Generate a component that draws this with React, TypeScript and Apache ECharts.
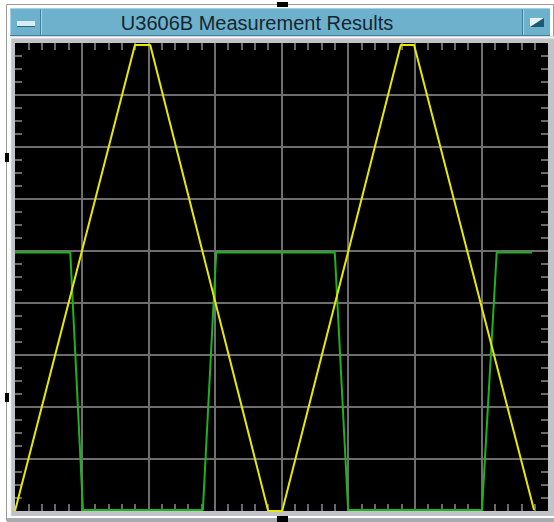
import React, { useEffect, useRef } from "react";
import * as echarts from "echarts";

const TITLE = "U3606B Measurement Results";

// Scope screen: divisions
const X_MIN = 0;
const X_MAX = 8;
const X_STEP = 1;
const X_MINOR = 5;
const Y_MIN = 0;
const Y_MAX = 9;
const Y_STEP = 1;
const Y_MINOR = 4;

// Yellow triangle trace (x, y in divisions)
const triangleX = [0, 1.8, 2.03, 3.8, 4.01, 5.79, 5.99, 7.79];
const triangleY = [0, 8.96, 8.96, 0, 0, 8.96, 8.96, 0.02];

// Green square trace (x, y in divisions)
const squareX = [0, 0.83, 1.02, 2.82, 3.02, 4.8, 5.0, 7.01, 7.23, 7.76];
const squareY = [4.97, 4.97, 0.02, 0.02, 4.97, 4.97, 0.02, 0.02, 4.97, 4.97];

const W = 554;
const H = 522;
const TICK_LEN = 7;

export default function App() {
  const ref = useRef<HTMLDivElement>(null);

  useEffect(() => {
    if (!ref.current) return;
    const chart = echarts.init(ref.current, null, { renderer: "svg" });

    const gridColor = "#6e6e6e";
    const tickColor = "#8c8c8c";
    const mkAxis = (
      pos: string,
      min: number,
      max: number,
      step: number,
      minor: number,
      split: boolean
    ) => ({
      type: "value",
      show: true,
      position: pos,
      offset: -TICK_LEN,
      min,
      max,
      interval: step,
      axisLine: { show: false, onZero: false },
      axisLabel: { show: false },
      axisTick: { show: false },
      minorTick: {
        show: true,
        splitNumber: minor,
        length: TICK_LEN,
        lineStyle: { color: tickColor, width: 1.5, opacity: 1 },
      },
      splitLine: {
        show: split,
        showMinLine: false,
        showMaxLine: false,
        lineStyle: { color: gridColor, width: 2 },
      },
      minorSplitLine: { show: false },
    });

    const dark = "#3e7f9c";
    const light = "#a2d2e6";
    const frame = "#c0c4c8";

    const graphic: any[] = [
      {
        type: "rect",
        z: -3,
        shape: { x: 6.5, y: 4.5, width: 547, height: 516 },
        style: { fill: "#ffffff", stroke: "#9a9a9a", lineWidth: 1 },
        silent: true,
      },
      {
        type: "rect",
        z: -2,
        shape: { x: 10, y: 36, width: 544, height: 480 },
        style: { fill: frame },
        silent: true,
      },
      {
        type: "line",
        z: -1,
        shape: { x1: 10, y1: 37.5, x2: 554, y2: 37.5 },
        style: { stroke: "#f4f4f4", lineWidth: 2 },
        silent: true,
      },
      {
        type: "line",
        z: -1,
        shape: { x1: 10.5, y1: 36, x2: 10.5, y2: 516 },
        style: { stroke: "#f4f4f4", lineWidth: 1.5 },
        silent: true,
      },
      {
        type: "line",
        z: -1,
        shape: { x1: 7, y1: 517, x2: 554, y2: 517 },
        style: { stroke: "#ffffff", lineWidth: 2 },
        silent: true,
      },
      {
        type: "rect",
        z: -1,
        shape: { x: 7, y: 518, width: 547, height: 4 },
        style: { fill: "#a8acb0" },
        silent: true,
      },
      // title bar
      {
        type: "rect",
        shape: { x: 10, y: 8, width: 540, height: 28 },
        style: { fill: "#6eb1cd" },
        silent: true,
      },
      {
        type: "line",
        shape: { x1: 10, y1: 8.5, x2: 550, y2: 8.5 },
        style: { stroke: light, lineWidth: 1 },
        silent: true,
      },
      {
        type: "line",
        shape: { x1: 10.5, y1: 8, x2: 10.5, y2: 36 },
        style: { stroke: light, lineWidth: 1 },
        silent: true,
      },
      {
        type: "line",
        shape: { x1: 10, y1: 35.5, x2: 550, y2: 35.5 },
        style: { stroke: dark, lineWidth: 1 },
        silent: true,
      },
      {
        type: "line",
        shape: { x1: 40.5, y1: 9, x2: 40.5, y2: 35 },
        style: { stroke: dark, lineWidth: 1 },
        silent: true,
      },
      {
        type: "line",
        shape: { x1: 41.5, y1: 9, x2: 41.5, y2: 35 },
        style: { stroke: light, lineWidth: 1 },
        silent: true,
      },
      {
        type: "line",
        shape: { x1: 522.5, y1: 9, x2: 522.5, y2: 35 },
        style: { stroke: dark, lineWidth: 1 },
        silent: true,
      },
      {
        type: "line",
        shape: { x1: 523.5, y1: 9, x2: 523.5, y2: 35 },
        style: { stroke: light, lineWidth: 1 },
        silent: true,
      },
      // minimize icon
      {
        type: "rect",
        shape: { x: 17, y: 21, width: 18, height: 5 },
        style: { fill: "#d8eef7" },
        silent: true,
      },
      {
        type: "line",
        shape: { x1: 17, y1: 26.5, x2: 35, y2: 26.5 },
        style: { stroke: "#2d6480", lineWidth: 1 },
        silent: true,
      },
      // maximize icon
      {
        type: "polygon",
        shape: { points: [[530, 18], [544, 18], [530, 27]] },
        style: { fill: "#e6f4fa" },
        silent: true,
      },
      {
        type: "polygon",
        shape: { points: [[544, 18], [544, 27], [530, 27]] },
        style: { fill: "#1d5876" },
        silent: true,
      },
      // title
      {
        type: "text",
        x: 257,
        y: 22.5,
        style: {
          text: TITLE,
          fill: "#16262e",
          font: "20px 'Liberation Sans', Arial, sans-serif",
          textAlign: "center",
          textVerticalAlign: "middle",
        },
        silent: true,
      },
      // selection handles
      {
        type: "rect",
        shape: { x: 277, y: 2, width: 11, height: 5 },
        style: { fill: "#000" },
        silent: true,
      },
      {
        type: "rect",
        shape: { x: 277, y: 516, width: 11, height: 6 },
        style: { fill: "#000" },
        silent: true,
      },
      {
        type: "rect",
        shape: { x: 5, y: 153, width: 4, height: 9 },
        style: { fill: "#000" },
        silent: true,
      },
      {
        type: "rect",
        shape: { x: 5, y: 393, width: 4, height: 9 },
        style: { fill: "#000" },
        silent: true,
      },
    ];

    chart.setOption({
      animation: false,
      backgroundColor: "#ffffff",
      grid: {
        left: 15,
        right: W - 548,
        top: 43,
        bottom: H - 511,
        show: true,
        backgroundColor: "#000000",
        borderWidth: 0,
      },
      xAxis: [
        mkAxis("bottom", X_MIN, X_MAX, X_STEP, X_MINOR, true),
        mkAxis("top", X_MIN, X_MAX, X_STEP, X_MINOR, false),
      ],
      yAxis: [
        mkAxis("left", Y_MIN, Y_MAX, Y_STEP, Y_MINOR, true),
        mkAxis("right", Y_MIN, Y_MAX, Y_STEP, Y_MINOR, false),
      ],
      graphic,
      series: [
        {
          name: "Square",
          type: "line",
          xAxisIndex: 0,
          yAxisIndex: 0,
          data: squareX.map((x, i) => [x, squareY[i]]),
          showSymbol: false,
          clip: false,
          lineStyle: { color: "#1eb21e", width: 2 },
          itemStyle: { color: "#1eb21e" },
          z: 2,
        },
        {
          name: "Triangle",
          type: "line",
          xAxisIndex: 0,
          yAxisIndex: 0,
          data: triangleX.map((x, i) => [x, triangleY[i]]),
          showSymbol: false,
          clip: false,
          lineStyle: { color: "#e8e800", width: 2 },
          itemStyle: { color: "#e8e800" },
          z: 3,
        },
      ],
    });

    return () => chart.dispose();
  }, []);

  return (
    <div
      ref={ref}
      style={{ position: "absolute", left: 0, top: 0, width: W, height: H }}
    />
  );
}
